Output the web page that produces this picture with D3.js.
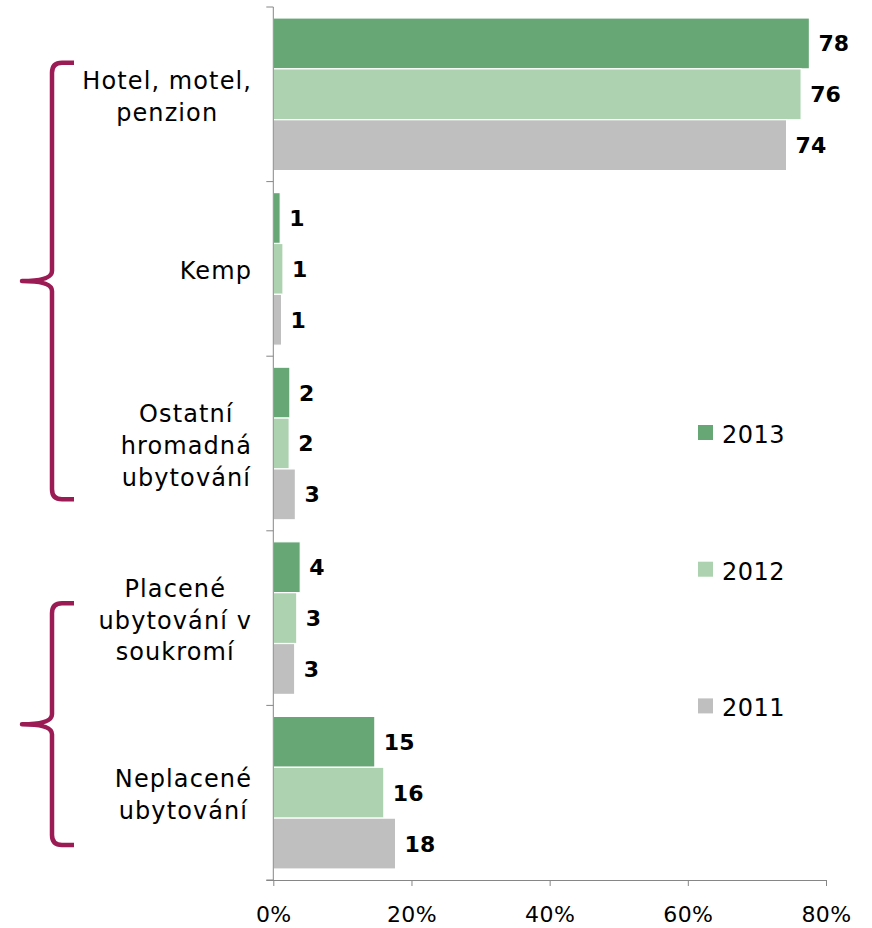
<!DOCTYPE html>
<html lang="cs">
<head>
    <meta charset="UTF-8">
    <title>Ubytování</title>
    <script src="https://d3js.org/d3.v7.min.js"></script>
    <style>
        body { margin: 0; background: #fff; }
        svg { display: block; font-family: "DejaVu Sans", Verdana, sans-serif; }
    </style>
</head>
<body>
    <div id="chart"></div>

    <script>
        // Data (percent)
        var categories = [
            ["Hotel, motel,", "penzion"],
            ["Kemp"],
            ["Ostatní", "hromadná", "ubytování"],
            ["Placené", "ubytování v", "soukromí"],
            ["Neplacené", "ubytování"]
        ];
        var seriesNames = ["2013", "2012", "2011"];
        var values2013 = [77.6, 1.0, 2.4, 3.9, 14.7];
        var values2012 = [76.4, 1.4, 2.3, 3.4, 16.0];
        var values2011 = [74.3, 1.2, 3.2, 3.1, 17.7];
        var xTicks = [0, 20, 40, 60, 80];
        var colors = ["#67a675", "#add2b0", "#bfbfbf"];

        // brace groups: first/last category, start/end as fraction of a band
        var braces = [
            { from: 0, to: 2, top: 0.32, bottom: 0.82 },
            { from: 3, to: 4, top: 0.415, bottom: 0.80 }
        ];

        var width = 872, height = 928;
        var margin = { top: 7, right: 46, bottom: 48, left: 273.3 };

        var svg = d3.select("#chart").append("svg")
            .attr("width", width)
            .attr("height", height);

        var x = d3.scaleLinear()
            .domain([0, 80])
            .range([margin.left, width - margin.right]);

        var y = d3.scaleBand()
            .domain(d3.range(categories.length))
            .range([margin.top, height - margin.bottom]);

        var ySub = d3.scaleBand()
            .domain(seriesNames)
            .range([11, y.bandwidth() - 11]);

        var rows = categories.map(function(c, i) {
            return {
                index: i,
                values: [values2013[i], values2012[i], values2011[i]]
            };
        });

        // bars
        var groups = svg.append("g").selectAll("g")
            .data(rows)
            .enter().append("g")
            .attr("transform", function(d) { return "translate(0," + y(d.index) + ")"; });

        groups.selectAll("rect")
            .data(function(d) { return d.values.map(function(v, k) { return { v: v, k: k }; }); })
            .enter().append("rect")
            .attr("x", x(0))
            .attr("y", function(d) { return ySub(seriesNames[d.k]); })
            .attr("width", function(d) { return x(d.v) - x(0); })
            .attr("height", ySub.bandwidth())
            .attr("fill", function(d) { return colors[d.k]; })
            .attr("stroke", "#fff")
            .attr("stroke-width", 1.2);

        groups.selectAll("text")
            .data(function(d) { return d.values.map(function(v, k) { return { v: v, k: k }; }); })
            .enter().append("text")
            .attr("x", function(d) { return x(d.v) + 9; })
            .attr("y", function(d) { return ySub(seriesNames[d.k]) + ySub.bandwidth() / 2 + 8; })
            .attr("font-size", 22)
            .attr("font-weight", "bold")
            .attr("fill", "#000")
            .text(function(d) { return d3.format(".0f")(d.v); });

        // axes
        var axisColor = "#868686";

        var xAxis = svg.append("g")
            .attr("transform", "translate(0," + (height - margin.bottom) + ")")
            .call(d3.axisBottom(x).tickValues(xTicks).tickSize(6)
                .tickFormat(function(d) { return d + "%"; }));
        xAxis.select(".domain").attr("stroke", axisColor).attr("d", "M" + (x(0) - 7) + ",0.5H" + x(80));
        xAxis.selectAll(".tick line").attr("stroke", axisColor);
        xAxis.selectAll(".tick text")
            .attr("y", 22).attr("dy", "0.9em")
            .attr("font-size", 22)
            .attr("font-family", "DejaVu Sans, Verdana, sans-serif")
            .attr("letter-spacing", 0.4)
            .attr("fill", "#000");

        var bounds = d3.range(categories.length + 1).map(function(i) {
            return margin.top + i * y.step();
        });
        var yAxis = svg.append("g");
        yAxis.append("line")
            .attr("x1", x(0)).attr("x2", x(0))
            .attr("y1", margin.top).attr("y2", height - margin.bottom)
            .attr("stroke", axisColor);
        yAxis.selectAll("line.tick")
            .data(bounds)
            .enter().append("line")
            .attr("class", "tick")
            .attr("x1", x(0) - 7).attr("x2", x(0))
            .attr("y1", function(d) { return d; }).attr("y2", function(d) { return d; })
            .attr("stroke", axisColor);

        // category labels, centred lines, right edge at 251
        var labelRight = 251, lineGap = 31.7;
        categories.forEach(function(lines, i) {
            var g = svg.append("g");
            var cy = y(i) + y.bandwidth() / 2;
            var texts = lines.map(function(line, j) {
                return g.append("text")
                    .attr("y", cy + (j - (lines.length - 1) / 2) * lineGap + 10.5)
                    .attr("font-size", 24)
                    .attr("letter-spacing", 1.1)
                    .attr("text-anchor", "middle")
                    .attr("fill", "#000")
                    .text(line);
            });
            var maxW = d3.max(texts, function(t) { return t.node().getComputedTextLength(); });
            texts.forEach(function(t) { t.attr("x", labelRight + 1 - maxW / 2); });
        });

        // braces
        var braceX = 52, tipX = 22, hookX = 74;
        braces.forEach(function(b) {
            var top = y(b.from) + y.bandwidth() * b.top;
            var bottom = y(b.to) + y.bandwidth() * b.bottom;
            var mid = (top + bottom) / 2;
            var p = d3.path();
            p.moveTo(hookX, top);
            p.lineTo(braceX + 10, top);
            p.quadraticCurveTo(braceX, top, braceX, top + 10);
            p.lineTo(braceX, mid - 10);
            p.quadraticCurveTo(braceX, mid, tipX, mid);
            p.quadraticCurveTo(braceX, mid, braceX, mid + 10);
            p.lineTo(braceX, bottom - 10);
            p.quadraticCurveTo(braceX, bottom, braceX + 10, bottom);
            p.lineTo(hookX, bottom);
            svg.append("path")
                .attr("d", p.toString())
                .attr("fill", "none")
                .attr("stroke", "#9b1b55")
                .attr("stroke-width", 4.5)
                .attr("stroke-linejoin", "round");
        });

        // legend
        var legend = svg.append("g").selectAll("g")
            .data(seriesNames)
            .enter().append("g")
            .attr("transform", function(d, i) { return "translate(698," + (425 + i * 136.7) + ")"; });
        legend.append("rect")
            .attr("width", 15).attr("height", 15)
            .attr("fill", function(d, i) { return colors[i]; });
        legend.append("text")
            .attr("x", 24).attr("y", 18)
            .attr("font-size", 24)
            .attr("letter-spacing", 0.5)
            .attr("fill", "#000")
            .text(function(d) { return d; });
    </script>
</body>
</html>
